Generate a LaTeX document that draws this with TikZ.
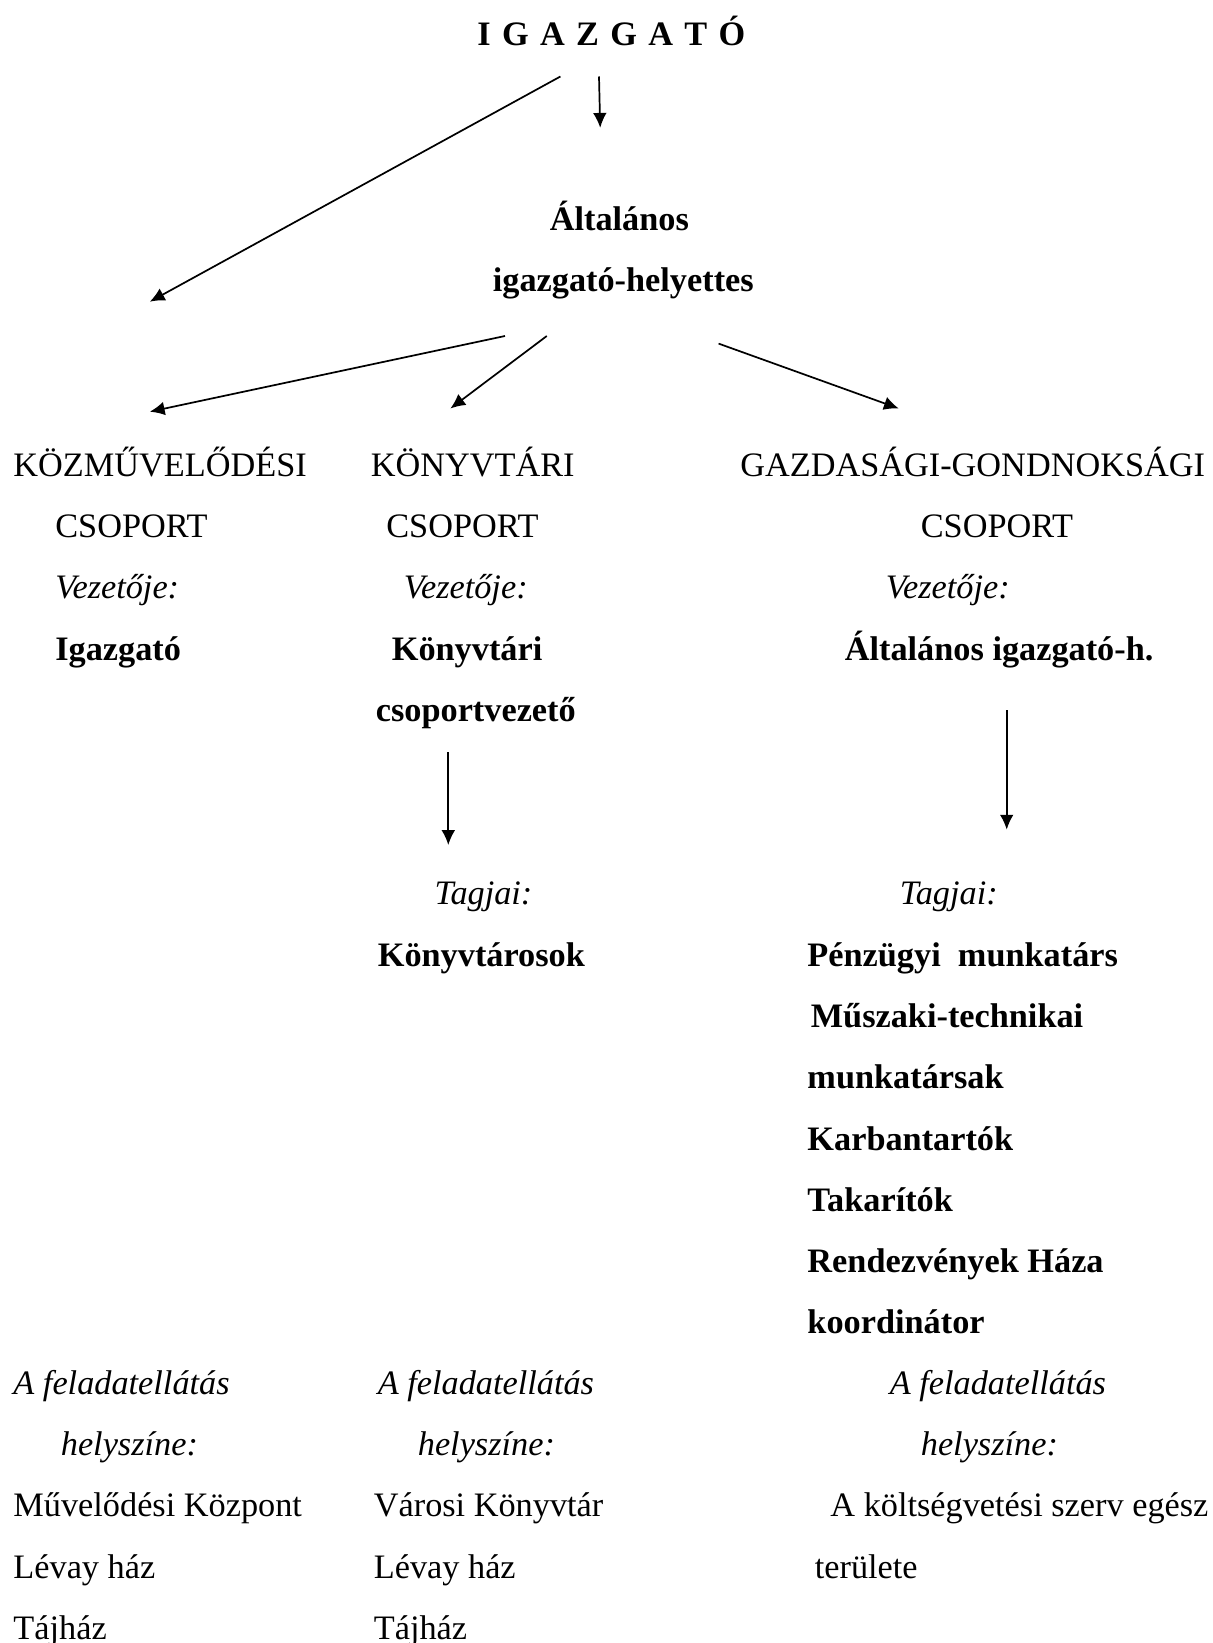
\documentclass[tikz,border=0pt]{standalone}
\usepackage{fontspec}
\setmainfont{Liberation Serif}
\usetikzlibrary{arrows.meta}
\tikzset{
  rmtext/.style={anchor=base west, inner sep=0pt, font=\fontsize{12}{14}\selectfont},
  bftext/.style={rmtext, font=\fontsize{12}{14}\selectfont\bfseries},
  ittext/.style={rmtext, font=\fontsize{12}{14}\selectfont\itshape},
}

\begin{document}
\begin{tikzpicture}[x=0.35pt, y=-0.35pt, line width=0.6pt, >={Latex[length=5.2pt,width=4.8pt]}]
            \useasboundingbox (0,0) rectangle (1213,1643);

            \node[bftext] (igazgato) at (476.6, 46)  {\spaceskip=0.33em I G A Z G A T Ó};
            \node[bftext] (altal1) at (549, 231)    {Általános};
            \node[bftext] (altal2) at (492, 292)    {igazgató-helyettes};

            \node[rmtext] (kozm1) at (12.6, 476)    {KÖZMŰVELŐDÉSI};
            \node[rmtext] (kozm2) at (54.5, 537)    {CSOPORT};
            \node[ittext] (kozm3) at (54.5, 598)    {Vezetője:};
            \node[bftext] (kozm4) at (54.5, 660)    {Igazgató};

            \node[rmtext] (konyv1) at (370, 476)    {KÖNYVTÁRI};
            \node[rmtext] (konyv2) at (385.5, 537)  {CSOPORT};
            \node[ittext] (konyv3) at (403, 598)    {Vezetője:};
            \node[bftext] (konyv4) at (391, 660)    {Könyvtári};
            \node[bftext] (konyv5) at (375, 721)    {csoportvezető};
            \node[ittext] (konyv6) at (433.7, 904)  {Tagjai:};
            \node[bftext] (konyv7) at (377, 966)    {Könyvtárosok};

            \node[rmtext] (gazd1) at (739.5, 476)   {GAZDASÁGI-GONDNOKSÁGI};
            \node[rmtext] (gazd2) at (920, 537)     {CSOPORT};
            \node[ittext] (gazd3) at (885, 598)     {Vezetője:};
            \node[bftext] (gazd4) at (844, 660)     {Általános igazgató-h.};
            \node[ittext] (gazd5) at (899, 904)     {Tagjai:};
            \node[bftext] (gazd6) at (806.6, 966)   {Pénzügyi~ munkatárs};
            \node[bftext] (gazd7) at (810, 1027)    {Műszaki-technikai};
            \node[bftext] (gazd8) at (806.6, 1088)  {munkatársak};
            \node[bftext] (gazd9) at (806.6, 1150)  {Karbantartók};
            \node[bftext] (gazd10) at (806.6, 1211) {Takarítók};
            \node[bftext] (gazd11) at (806.6, 1272) {Rendezvények Háza};
            \node[bftext] (gazd12) at (806.6, 1333) {koordinátor};

            \node[ittext] (kozmhely1) at (12.6, 1394)  {A feladatellátás};
            \node[ittext] (kozmhely2) at (60, 1455)    {helyszíne:};
            \node[rmtext] (kozmhely3) at (12.6, 1516)  {Művelődési Központ};
            \node[rmtext] (kozmhely4) at (12.6, 1578)  {Lévay ház};
            \node[rmtext] (kozmhely5) at (12.6, 1639)  {Tájház};

            \node[ittext] (konyvhely1) at (377, 1394)  {A feladatellátás};
            \node[ittext] (konyvhely2) at (417, 1455)  {helyszíne:};
            \node[rmtext] (konyvhely3) at (373, 1516)  {Városi Könyvtár};
            \node[rmtext] (konyvhely4) at (373, 1578)  {Lévay ház};
            \node[rmtext] (konyvhely5) at (373, 1639)  {Tájház};

            \node[ittext] (gazdhely1) at (889, 1394)   {A feladatellátás};
            \node[ittext] (gazdhely2) at (920, 1455)   {helyszíne:};
            \node[rmtext] (gazdhely3) at (829.6, 1516) {A költségvetési szerv egész};
            \node[rmtext] (gazdhely4) at (814, 1578)   {területe};

            \coordinate (igkozmA) at (560.4, 76.5);
            \coordinate (igkozmB) at (149.8, 301.7);
            \coordinate (igaltA) at (599, 76.5);
            \coordinate (igaltB) at (600.2, 127.8);
            \coordinate (altkozmA) at (505, 336);
            \coordinate (altkozmB) at (149.8, 411.7);
            \coordinate (altkonyvA) at (546.8, 336);
            \coordinate (altkonyvB) at (450.4, 408.5);
            \coordinate (altgazdA) at (718.6, 343.6);
            \coordinate (altgazdB) at (898.8, 408.5);
            \coordinate (konyvtagA) at (448.3, 752);
            \coordinate (konyvtagB) at (448.3, 845);
            \coordinate (gazdtagA) at (1006.7, 710);
            \coordinate (gazdtagB) at (1006.7, 829.6);

            \draw[->] (igkozmA) -- (igkozmB);
            \draw[->] (igaltA) -- (igaltB);
            \draw[->] (altkozmA) -- (altkozmB);
            \draw[->] (altkonyvA) -- (altkonyvB);
            \draw[->] (altgazdA) -- (altgazdB);
            \draw[->] (konyvtagA) -- (konyvtagB);
            \draw[->] (gazdtagA) -- (gazdtagB);
          \end{tikzpicture}
\end{document}
